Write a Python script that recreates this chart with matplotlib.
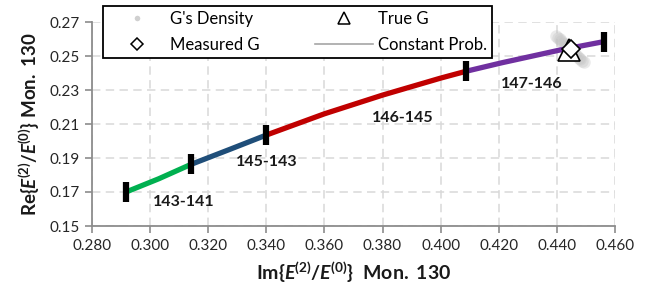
import matplotlib
matplotlib.use("Agg")
import matplotlib.pyplot as plt
from matplotlib.lines import Line2D

plt.rcParams['font.family'] = ['Lato', 'DejaVu Sans']
plt.rcParams['mathtext.fontset'] = 'custom'
plt.rcParams['mathtext.rm'] = 'Lato'
plt.rcParams['mathtext.it'] = 'Lato:italic'
plt.rcParams['mathtext.bf'] = 'Lato:bold'
plt.rcParams['mathtext.bfit'] = 'Lato:italic:bold'

# ---- data ----
curve_x = [0.2917, 0.303, 0.314, 0.327, 0.340, 0.360, 0.380, 0.400, 0.4087, 0.421, 0.441, 0.4563]
curve_y = [0.1700, 0.1778, 0.1862, 0.1948, 0.2035, 0.2160, 0.2270, 0.2370, 0.2410, 0.2460, 0.2535, 0.2585]
segment_names = ["143-141", "145-143", "146-145", "147-146"]
segment_bounds = [(0, 2), (2, 4), (4, 8), (8, 11)]  # index ranges into curve
segment_colors = ["#00B050", "#1F4E79", "#C00000", "#7030A0"]
boundary_x = [0.2917, 0.314, 0.340, 0.4087, 0.4563]
boundary_y = [0.1700, 0.1862, 0.2035, 0.2410, 0.2585]
label_x = [0.3116, 0.3403, 0.3871, 0.4313]
label_y = [0.1641, 0.1875, 0.2138, 0.2334]

density_x = [0.4398, 0.4403, 0.4409, 0.4415, 0.4421, 0.4427, 0.4433, 0.4439, 0.4445, 0.4451,
             0.4457, 0.4463, 0.4469, 0.4475, 0.4481, 0.4487, 0.4493]
density_y = [0.2616, 0.2608, 0.2598, 0.2588, 0.2578, 0.2568, 0.2558, 0.2549, 0.2540, 0.2530,
             0.2520, 0.2510, 0.2500, 0.2490, 0.2481, 0.2472, 0.2464]
true_g = (0.4443, 0.2538)
measured_g = (0.4447, 0.2543)

xticks = [0.28, 0.30, 0.32, 0.34, 0.36, 0.38, 0.40, 0.42, 0.44, 0.46]
yticks = [0.15, 0.17, 0.19, 0.21, 0.23, 0.25, 0.27]

fig = plt.figure(figsize=(6.49, 2.97), dpi=100)
ax = fig.add_axes([92/649, 1-226/297, (615-92)/649, (226-22)/297])

ax.set_xlim(0.28, 0.46)
ax.set_ylim(0.15, 0.27)
ax.set_xticks(xticks)
ax.set_yticks(yticks)
ax.set_xticklabels([f"{t:.3f}" for t in xticks])
ax.set_yticklabels([f"{t:.2f}" for t in yticks])

gridc = '#D9D9D9'
ax.grid(True, color=gridc, linestyle=(0, (5.5, 3.5)), linewidth=1.1, zorder=0)
ax.set_axisbelow(True)
for s in ['top', 'right']:
    ax.spines[s].set_visible(False)
for s in ['left', 'bottom']:
    ax.spines[s].set_color('#8C8C8C')
    ax.spines[s].set_linewidth(1.3)
ax.tick_params(axis='both', direction='out', length=5, width=1.2, color='#8C8C8C',
               labelsize=11, labelcolor='#262626', pad=4)

# density cloud
ax.plot(density_x, density_y, 'o', color='#C4C4C4', ms=9, alpha=0.35, mec='none', zorder=3)

# curve segments
for (i0, i1), c in zip(segment_bounds, segment_colors):
    ax.plot(curve_x[i0:i1+1], curve_y[i0:i1+1], '-', color=c, lw=3.8,
            solid_capstyle='butt', zorder=4)

# boundary markers
ax.plot(boundary_x, boundary_y, '|', color='black', ms=15, mew=4.5, zorder=5)

# true and measured G
ax.plot([true_g[0]], [true_g[1]], '^', ms=16, mfc='white', mec='black', mew=1.2, zorder=6)
ax.plot([measured_g[0]], [measured_g[1]], 'D', ms=9.5, mfc='white', mec='black', mew=1.2, zorder=7)

for name, lx, ly in zip(segment_names, label_x, label_y):
    ax.text(lx, ly, name, ha='center', va='center', fontsize=11.5, fontweight='bold', color='#1A1A1A', zorder=8)

ax.set_xlabel(r'$\mathbf{Im\{}\mathbfit{E}^{\mathbf{(2)}}\mathbf{/}\mathbfit{E}^{\mathbf{(0)}}\mathbf{\}\ \ Mon.\ 130}$',
              fontsize=14, labelpad=5, color='#1A1A1A')
ax.set_ylabel(r'$\mathbf{Re\{}\mathbfit{E}^{\mathbf{(2)}}\mathbf{/}\mathbfit{E}^{\mathbf{(0)}}\mathbf{\}\ Mon.\ 130}$',
              fontsize=13.5, labelpad=5, color='#1A1A1A')

handles = [
    Line2D([], [], ls='none', marker='o', color='#D0D0D0', ms=4, mec='none'),
    Line2D([], [], ls='none', marker='D', ms=6, mfc='white', mec='black', mew=1.1),
    Line2D([], [], ls='none', marker='^', ms=8, mfc='white', mec='black', mew=1.1),
    Line2D([], [], color='#A6A6A6', lw=1.2),
]
labels = ["G's Density", "Measured G", "True G", "Constant Prob."]
leg = fig.legend(handles, labels, ncol=2, loc='upper left',
                 bbox_to_anchor=(103/649, 1-6/297), bbox_transform=fig.transFigure,
                 frameon=True, fancybox=False, edgecolor='black', framealpha=1,
                 fontsize=12, handlelength=3.5, handletextpad=0.25, columnspacing=3.3,
                 borderpad=0.3, labelspacing=0.6, borderaxespad=0)
leg.get_frame().set_linewidth(1.3)
leg.set_zorder(10)

fig.savefig('out.png', dpi=100)
